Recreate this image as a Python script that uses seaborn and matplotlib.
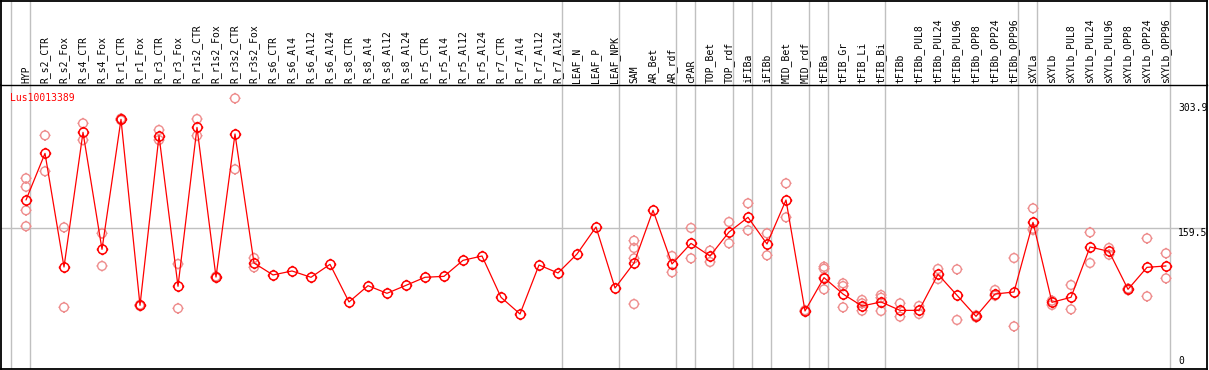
import numpy as np
import pandas as pd
import matplotlib
matplotlib.use("Agg")
import matplotlib.pyplot as plt
from matplotlib.path import Path
import seaborn as sns

categories = ["HYP", "R_s2_CTR", "R_s2_Fox", "R_s4_CTR", "R_s4_Fox", "R_r1_CTR", "R_r1_Fox",
              "R_r3_CTR", "R_r3_Fox", "R_r1s2_CTR", "R_r1s2_Fox", "R_r3s2_CTR", "R_r3s2_Fox",
              "R_s6_CTR", "R_s6_Al4", "R_s6_Al12", "R_s6_Al24", "R_s8_CTR", "R_s8_Al4", "R_s8_Al12",
              "R_s8_Al24", "R_r5_CTR", "R_r5_Al4", "R_r5_Al12", "R_r5_Al24", "R_r7_CTR", "R_r7_Al4",
              "R_r7_Al12", "R_r7_Al24", "LEAF_N", "LEAF_P", "LEAF_NPK", "SAM", "AR_Bet", "AR_rdf",
              "cPAR", "TOP_Bet", "TOP_rdf", "iFIBa", "iFIBb", "MID_Bet", "MID_rdf", "tFIBa",
              "tFIB_Gr", "tFIB_Li", "tFIB_Bi", "tFIBb", "tFIBb_PUL8", "tFIBb_PUL24", "tFIBb_PUL96",
              "tFIBb_OPP8", "tFIBb_OPP24", "tFIBb_OPP96", "sXYLa", "sXYLb", "sXYLb_PUL8",
              "sXYLb_PUL24", "sXYLb_PUL96", "sXYLb_OPP8", "sXYLb_OPP24", "sXYLb_OPP96"]

mean_values = [191.8, 245.7, 114.4, 270.0, 134.8, 285.0, 70.1, 266.1, 92.1, 275.7, 102.8, 268.1, 119.0,
               105.2, 109.8, 102.5, 117.5, 74.0, 92.8, 84.0, 93.2, 102.5, 103.6, 122.1, 127.1, 79.4,
               60.1, 116.7, 107.5,
               129.4, 160.6, 90.1, 119.0, 179.9, 117.9, 141.7, 127.1, 154.8, 171.8, 141.0, 191.8, 63.6,
               102.1, 83.2, 69.3, 74.0, 64.3, 64.3, 106.0, 81.7, 57.4, 83.2, 85.5, 166.0, 73.6, 79.4,
               137.5, 132.5, 88.6, 114.0, 115.6]

replicates = [[216.9, 207.1, 179.9, 161.5], [266.5, 225.0], [160.2, 67.8], [280.4, 261.1],
              [153.3, 115.6], [286.0, 284.0], [70.8, 69.4], [272.7, 261.1], [117.9, 66.6],
              [285.4, 266.1], [103.5, 102.0], [309.3, 227.3], [124.8, 114.0],
              [], [], [], [], [], [], [], [], [], [], [], [], [], [], [], [],
              [], [], [],
              [144.8, 136.4, 124.4, 71.6], [], [127.1, 108.3], [159.5, 124.4], [133.3, 120.2],
              [166.4, 141.8], [188.0, 156.8], [153.3, 127.9], [211.1, 171.8], [64.4, 62.8],
              [114.7, 112.4, 102.0, 88.6], [95.5, 92.4, 67.8], [76.3, 72.4, 63.9], [82.0, 78.9, 63.6],
              [72.4, 57.0], [69.3, 60.1], [112.1, 100.5], [111.7, 53.2], [58.5, 56.3], [87.8, 81.3],
              [124.8, 45.8], [182.2, 158.6, 157.2], [75.5, 70.5], [93.6, 65.5], [154.4, 119.0],
              [136.4, 128.6], [89.5, 87.7], [147.5, 80.5], [130.2, 101.3]]

group_starts = [0, 1, 29, 32, 35, 36, 38, 39, 40, 42, 43, 46, 53, 54, 61]
y_ticks = [0, 159.5, 303.9]
gene = "Lus10013389"

sns.set_style("white")
plt.rcParams["font.family"] = ["DejaVu Sans Mono", "DejaVu Sans"]

W, H = 1209, 370
fig = plt.figure(figsize=(W / 100, H / 100), dpi=100)
ax = fig.add_axes([1 / W, 1 / H, 1206 / W, 284 / H])
axl = fig.add_axes([1 / W, 285 / H, 1206 / W, 84.5 / H])

xpos = np.arange(len(categories))
main_df = pd.DataFrame({"x": xpos, "value": mean_values})
rx, ry = [], []
for i, reps in enumerate(replicates):
    for r in reps:
        rx.append(i)
        ry.append(r)
rep_df = pd.DataFrame({"x": rx, "value": ry})

# circle marker with four small ticks
circ = Path.unit_circle()
ticks = []
for dx, dy in [(0, 1), (0, -1), (1, 0), (-1, 0)]:
    ticks.append(Path([[dx, dy], [dx * 1.28, dy * 1.28]], [Path.MOVETO, Path.LINETO]))
marker = Path.make_compound_path(circ, *ticks)

off = 15 / 19
xlim = (-25 / 19, (1207 - 26) / 19)
for a in (ax, axl):
    a.set_xlim(*xlim)
    for g in group_starts:
        a.axvline(g - off, color="#c0c0c0", lw=1.0, zorder=0)
    a.set_xticks([])
    a.set_yticks([])

ax.axhline(159.5, color="#c0c0c0", lw=1.0, zorder=0)

sns.scatterplot(data=rep_df, x="x", y="value", ax=ax, marker=marker, s=64,
                facecolors="none", edgecolor="#ee8c8c", linewidth=1.0, zorder=2, legend=False)
sns.lineplot(data=main_df, x="x", y="value", ax=ax, color="#ff0000", lw=0.9,
             marker=marker, markersize=8.3, markerfacecolor="none", markeredgecolor="#ff0000",
             markeredgewidth=1.1, zorder=3, legend=False)

ax.set_ylim((366 - 369) / 0.8654, (366 - 85) / 0.8654)
ax.set_xlim(*xlim)
ax.set_xlabel("")
ax.set_ylabel("")
ax.set_xticks([])
ax.set_yticks([])

for sp in ["left", "right", "bottom"]:
    ax.spines[sp].set_color("black")
    ax.spines[sp].set_linewidth(1.3)
ax.spines["top"].set_visible(False)
for sp in ["left", "right", "top"]:
    axl.spines[sp].set_color("black")
    axl.spines[sp].set_linewidth(1.3)
axl.spines["bottom"].set_color("black")
axl.spines["bottom"].set_linewidth(1.0)
axl.set_ylim(0, 1)

for i, c in enumerate(categories):
    axl.text(i, 2 / 84.5, c, rotation=90, ha="center", va="bottom", fontsize=7, color="black")

for v in y_ticks:
    ax.text((1178 - 1) / 1206, v, f"{v:g}" if v == 0 else f"{v}",
            transform=ax.get_yaxis_transform(), ha="left",
            va="bottom" if v == 0 else "top", fontsize=7, color="black")

ax.text(9 / 1206, 1 - 8 / 284, gene, transform=ax.transAxes, ha="left", va="top",
        fontsize=7, color="#ff0000")

fig.savefig("out.png", dpi=100)
